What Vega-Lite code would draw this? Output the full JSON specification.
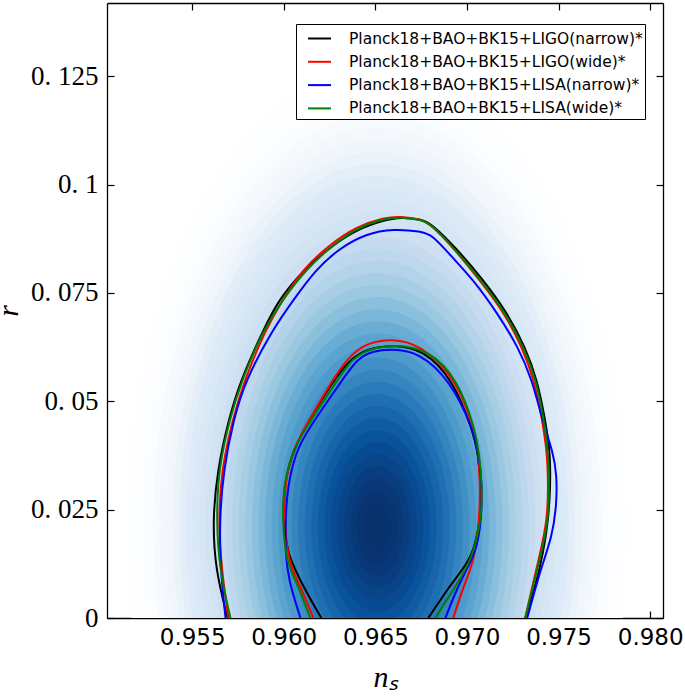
{
  "$schema": "https://vega.github.io/schema/vega-lite/v6.json",
  "width": 556,
  "height": 615,
  "autosize": {"type": "none"},
  "padding": {"left": 107, "top": 3, "right": 22, "bottom": 78},
  "background": "white",
  "config": {
    "view": {"stroke": null},
    "axis": {"domain": true, "domainColor": "black", "domainWidth": 1.3, "grid": false, "tickColor": "black", "tickWidth": 1.2, "tickSize": -7, "labelColor": "black", "titleColor": "black", "zindex": 1}
  },
  "datasets": {
    "density": [
      {"ns": 0.9651, "r": 0.021, "rho": 3.8, "density": 0.0009},
      {"ns": 0.9651, "r": 0.021, "rho": 3.7, "density": 0.0013},
      {"ns": 0.9651, "r": 0.021, "rho": 3.6, "density": 0.0018},
      {"ns": 0.9651, "r": 0.021, "rho": 3.5, "density": 0.0026},
      {"ns": 0.9651, "r": 0.021, "rho": 3.4, "density": 0.0037},
      {"ns": 0.9651, "r": 0.021, "rho": 3.3, "density": 0.0051},
      {"ns": 0.9651, "r": 0.021, "rho": 3.2, "density": 0.0070},
      {"ns": 0.9651, "r": 0.021, "rho": 3.1, "density": 0.0096},
      {"ns": 0.9651, "r": 0.021, "rho": 3.0, "density": 0.0129},
      {"ns": 0.9651, "r": 0.021, "rho": 2.9, "density": 0.0172},
      {"ns": 0.9651, "r": 0.021, "rho": 2.8, "density": 0.0228},
      {"ns": 0.9651, "r": 0.021, "rho": 2.7, "density": 0.0299},
      {"ns": 0.9651, "r": 0.021, "rho": 2.6, "density": 0.0387},
      {"ns": 0.9651, "r": 0.021, "rho": 2.5, "density": 0.0497},
      {"ns": 0.9651, "r": 0.021, "rho": 2.4, "density": 0.0632},
      {"ns": 0.9651, "r": 0.021, "rho": 2.3, "density": 0.0796},
      {"ns": 0.9651, "r": 0.021, "rho": 2.2, "density": 0.0992},
      {"ns": 0.9651, "r": 0.021, "rho": 2.1, "density": 0.1223},
      {"ns": 0.9651, "r": 0.021, "rho": 2.0, "density": 0.1494},
      {"ns": 0.9651, "r": 0.021, "rho": 1.9, "density": 0.1807},
      {"ns": 0.9651, "r": 0.021, "rho": 1.8, "density": 0.2163},
      {"ns": 0.9651, "r": 0.021, "rho": 1.7, "density": 0.2564},
      {"ns": 0.9651, "r": 0.021, "rho": 1.6, "density": 0.3009},
      {"ns": 0.9651, "r": 0.021, "rho": 1.5, "density": 0.3496},
      {"ns": 0.9651, "r": 0.021, "rho": 1.4, "density": 0.4021},
      {"ns": 0.9651, "r": 0.021, "rho": 1.3, "density": 0.4578},
      {"ns": 0.9651, "r": 0.021, "rho": 1.2, "density": 0.5163},
      {"ns": 0.9651, "r": 0.021, "rho": 1.1, "density": 0.5763},
      {"ns": 0.9651, "r": 0.021, "rho": 1.0, "density": 0.6369},
      {"ns": 0.9651, "r": 0.021, "rho": 0.9, "density": 0.6968},
      {"ns": 0.9651, "r": 0.021, "rho": 0.8, "density": 0.7548},
      {"ns": 0.9651, "r": 0.021, "rho": 0.7, "density": 0.8096},
      {"ns": 0.9651, "r": 0.021, "rho": 0.6, "density": 0.8598},
      {"ns": 0.9651, "r": 0.021, "rho": 0.5, "density": 0.9039},
      {"ns": 0.9651, "r": 0.021, "rho": 0.4, "density": 0.9406},
      {"ns": 0.9651, "r": 0.021, "rho": 0.3, "density": 0.9692},
      {"ns": 0.9651, "r": 0.021, "rho": 0.2, "density": 0.9888},
      {"ns": 0.9651, "r": 0.021, "rho": 0.1, "density": 0.9988}
    ],
    "contours": [
      {"series": "Planck18+BAO+BK15+LIGO(narrow)*", "level": "95", "i": 0, "ns": 0.95693, "r": 0},
      {"series": "Planck18+BAO+BK15+LIGO(narrow)*", "level": "95", "i": 1, "ns": 0.95627, "r": 0.0111},
      {"series": "Planck18+BAO+BK15+LIGO(narrow)*", "level": "95", "i": 2, "ns": 0.95611, "r": 0.0226},
      {"series": "Planck18+BAO+BK15+LIGO(narrow)*", "level": "95", "i": 3, "ns": 0.95638, "r": 0.0342},
      {"series": "Planck18+BAO+BK15+LIGO(narrow)*", "level": "95", "i": 4, "ns": 0.95698, "r": 0.0457},
      {"series": "Planck18+BAO+BK15+LIGO(narrow)*", "level": "95", "i": 5, "ns": 0.95764, "r": 0.0549},
      {"series": "Planck18+BAO+BK15+LIGO(narrow)*", "level": "95", "i": 6, "ns": 0.95889, "r": 0.0665},
      {"series": "Planck18+BAO+BK15+LIGO(narrow)*", "level": "95", "i": 7, "ns": 0.95971, "r": 0.0734},
      {"series": "Planck18+BAO+BK15+LIGO(narrow)*", "level": "95", "i": 8, "ns": 0.96107, "r": 0.0803},
      {"series": "Planck18+BAO+BK15+LIGO(narrow)*", "level": "95", "i": 9, "ns": 0.96254, "r": 0.0856},
      {"series": "Planck18+BAO+BK15+LIGO(narrow)*", "level": "95", "i": 10, "ns": 0.9640, "r": 0.0897},
      {"series": "Planck18+BAO+BK15+LIGO(narrow)*", "level": "95", "i": 11, "ns": 0.9655, "r": 0.0918},
      {"series": "Planck18+BAO+BK15+LIGO(narrow)*", "level": "95", "i": 12, "ns": 0.96636, "r": 0.0925},
      {"series": "Planck18+BAO+BK15+LIGO(narrow)*", "level": "95", "i": 13, "ns": 0.9675, "r": 0.0920},
      {"series": "Planck18+BAO+BK15+LIGO(narrow)*", "level": "95", "i": 14, "ns": 0.9680, "r": 0.0912},
      {"series": "Planck18+BAO+BK15+LIGO(narrow)*", "level": "95", "i": 15, "ns": 0.96936, "r": 0.0856},
      {"series": "Planck18+BAO+BK15+LIGO(narrow)*", "level": "95", "i": 16, "ns": 0.97089, "r": 0.0780},
      {"series": "Planck18+BAO+BK15+LIGO(narrow)*", "level": "95", "i": 17, "ns": 0.97220, "r": 0.0704},
      {"series": "Planck18+BAO+BK15+LIGO(narrow)*", "level": "95", "i": 18, "ns": 0.97318, "r": 0.0625},
      {"series": "Planck18+BAO+BK15+LIGO(narrow)*", "level": "95", "i": 19, "ns": 0.97384, "r": 0.0549},
      {"series": "Planck18+BAO+BK15+LIGO(narrow)*", "level": "95", "i": 20, "ns": 0.97427, "r": 0.0457},
      {"series": "Planck18+BAO+BK15+LIGO(narrow)*", "level": "95", "i": 21, "ns": 0.97455, "r": 0.0381},
      {"series": "Planck18+BAO+BK15+LIGO(narrow)*", "level": "95", "i": 22, "ns": 0.97455, "r": 0.0302},
      {"series": "Planck18+BAO+BK15+LIGO(narrow)*", "level": "95", "i": 23, "ns": 0.97444, "r": 0.0226},
      {"series": "Planck18+BAO+BK15+LIGO(narrow)*", "level": "95", "i": 24, "ns": 0.97416, "r": 0.0150},
      {"series": "Planck18+BAO+BK15+LIGO(narrow)*", "level": "95", "i": 25, "ns": 0.97373, "r": 0.0072},
      {"series": "Planck18+BAO+BK15+LIGO(narrow)*", "level": "95", "i": 26, "ns": 0.97318, "r": 0},
      {"series": "Planck18+BAO+BK15+LIGO(narrow)*", "level": "68", "i": 0, "ns": 0.96205, "r": 0},
      {"series": "Planck18+BAO+BK15+LIGO(narrow)*", "level": "68", "i": 1, "ns": 0.96107, "r": 0.0072},
      {"series": "Planck18+BAO+BK15+LIGO(narrow)*", "level": "68", "i": 2, "ns": 0.96064, "r": 0.0111},
      {"series": "Planck18+BAO+BK15+LIGO(narrow)*", "level": "68", "i": 3, "ns": 0.96020, "r": 0.0150},
      {"series": "Planck18+BAO+BK15+LIGO(narrow)*", "level": "68", "i": 4, "ns": 0.95998, "r": 0.0226},
      {"series": "Planck18+BAO+BK15+LIGO(narrow)*", "level": "68", "i": 5, "ns": 0.95998, "r": 0.0302},
      {"series": "Planck18+BAO+BK15+LIGO(narrow)*", "level": "68", "i": 6, "ns": 0.96047, "r": 0.0381},
      {"series": "Planck18+BAO+BK15+LIGO(narrow)*", "level": "68", "i": 7, "ns": 0.96107, "r": 0.0434},
      {"series": "Planck18+BAO+BK15+LIGO(narrow)*", "level": "68", "i": 8, "ns": 0.96271, "r": 0.0549},
      {"series": "Planck18+BAO+BK15+LIGO(narrow)*", "level": "68", "i": 9, "ns": 0.9636, "r": 0.0596},
      {"series": "Planck18+BAO+BK15+LIGO(narrow)*", "level": "68", "i": 10, "ns": 0.96456, "r": 0.0622},
      {"series": "Planck18+BAO+BK15+LIGO(narrow)*", "level": "68", "i": 11, "ns": 0.9660, "r": 0.0630},
      {"series": "Planck18+BAO+BK15+LIGO(narrow)*", "level": "68", "i": 12, "ns": 0.96762, "r": 0.0620},
      {"series": "Planck18+BAO+BK15+LIGO(narrow)*", "level": "68", "i": 13, "ns": 0.96925, "r": 0.0549},
      {"series": "Planck18+BAO+BK15+LIGO(narrow)*", "level": "68", "i": 14, "ns": 0.97030, "r": 0.0434},
      {"series": "Planck18+BAO+BK15+LIGO(narrow)*", "level": "68", "i": 15, "ns": 0.97060, "r": 0.0381},
      {"series": "Planck18+BAO+BK15+LIGO(narrow)*", "level": "68", "i": 16, "ns": 0.97078, "r": 0.0302},
      {"series": "Planck18+BAO+BK15+LIGO(narrow)*", "level": "68", "i": 17, "ns": 0.97073, "r": 0.0226},
      {"series": "Planck18+BAO+BK15+LIGO(narrow)*", "level": "68", "i": 18, "ns": 0.97035, "r": 0.0150},
      {"series": "Planck18+BAO+BK15+LIGO(narrow)*", "level": "68", "i": 19, "ns": 0.96975, "r": 0.0111},
      {"series": "Planck18+BAO+BK15+LIGO(narrow)*", "level": "68", "i": 20, "ns": 0.96909, "r": 0.0076},
      {"series": "Planck18+BAO+BK15+LIGO(narrow)*", "level": "68", "i": 21, "ns": 0.96789, "r": 0},
      {"series": "Planck18+BAO+BK15+LIGO(wide)*", "level": "95", "i": 0, "ns": 0.95698, "r": 0},
      {"series": "Planck18+BAO+BK15+LIGO(wide)*", "level": "95", "i": 1, "ns": 0.95660, "r": 0.0111},
      {"series": "Planck18+BAO+BK15+LIGO(wide)*", "level": "95", "i": 2, "ns": 0.95643, "r": 0.0226},
      {"series": "Planck18+BAO+BK15+LIGO(wide)*", "level": "95", "i": 3, "ns": 0.95660, "r": 0.0342},
      {"series": "Planck18+BAO+BK15+LIGO(wide)*", "level": "95", "i": 4, "ns": 0.95720, "r": 0.0457},
      {"series": "Planck18+BAO+BK15+LIGO(wide)*", "level": "95", "i": 5, "ns": 0.95785, "r": 0.0549},
      {"series": "Planck18+BAO+BK15+LIGO(wide)*", "level": "95", "i": 6, "ns": 0.95900, "r": 0.0665},
      {"series": "Planck18+BAO+BK15+LIGO(wide)*", "level": "95", "i": 7, "ns": 0.95993, "r": 0.0734},
      {"series": "Planck18+BAO+BK15+LIGO(wide)*", "level": "95", "i": 8, "ns": 0.96100, "r": 0.0803},
      {"series": "Planck18+BAO+BK15+LIGO(wide)*", "level": "95", "i": 9, "ns": 0.96245, "r": 0.0860},
      {"series": "Planck18+BAO+BK15+LIGO(wide)*", "level": "95", "i": 10, "ns": 0.9640, "r": 0.0904},
      {"series": "Planck18+BAO+BK15+LIGO(wide)*", "level": "95", "i": 11, "ns": 0.9655, "r": 0.0924},
      {"series": "Planck18+BAO+BK15+LIGO(wide)*", "level": "95", "i": 12, "ns": 0.96636, "r": 0.0927},
      {"series": "Planck18+BAO+BK15+LIGO(wide)*", "level": "95", "i": 13, "ns": 0.9675, "r": 0.0920},
      {"series": "Planck18+BAO+BK15+LIGO(wide)*", "level": "95", "i": 14, "ns": 0.9680, "r": 0.0909},
      {"series": "Planck18+BAO+BK15+LIGO(wide)*", "level": "95", "i": 15, "ns": 0.96930, "r": 0.0852},
      {"series": "Planck18+BAO+BK15+LIGO(wide)*", "level": "95", "i": 16, "ns": 0.97078, "r": 0.0775},
      {"series": "Planck18+BAO+BK15+LIGO(wide)*", "level": "95", "i": 17, "ns": 0.97210, "r": 0.0700},
      {"series": "Planck18+BAO+BK15+LIGO(wide)*", "level": "95", "i": 18, "ns": 0.97300, "r": 0.0625},
      {"series": "Planck18+BAO+BK15+LIGO(wide)*", "level": "95", "i": 19, "ns": 0.97367, "r": 0.0549},
      {"series": "Planck18+BAO+BK15+LIGO(wide)*", "level": "95", "i": 20, "ns": 0.97411, "r": 0.0457},
      {"series": "Planck18+BAO+BK15+LIGO(wide)*", "level": "95", "i": 21, "ns": 0.97438, "r": 0.0381},
      {"series": "Planck18+BAO+BK15+LIGO(wide)*", "level": "95", "i": 22, "ns": 0.97444, "r": 0.0302},
      {"series": "Planck18+BAO+BK15+LIGO(wide)*", "level": "95", "i": 23, "ns": 0.97438, "r": 0.0226},
      {"series": "Planck18+BAO+BK15+LIGO(wide)*", "level": "95", "i": 24, "ns": 0.97400, "r": 0.0150},
      {"series": "Planck18+BAO+BK15+LIGO(wide)*", "level": "95", "i": 25, "ns": 0.97356, "r": 0.0072},
      {"series": "Planck18+BAO+BK15+LIGO(wide)*", "level": "95", "i": 26, "ns": 0.97318, "r": 0},
      {"series": "Planck18+BAO+BK15+LIGO(wide)*", "level": "68", "i": 0, "ns": 0.96162, "r": 0},
      {"series": "Planck18+BAO+BK15+LIGO(wide)*", "level": "68", "i": 1, "ns": 0.96091, "r": 0.0072},
      {"series": "Planck18+BAO+BK15+LIGO(wide)*", "level": "68", "i": 2, "ns": 0.96047, "r": 0.0111},
      {"series": "Planck18+BAO+BK15+LIGO(wide)*", "level": "68", "i": 3, "ns": 0.96020, "r": 0.0150},
      {"series": "Planck18+BAO+BK15+LIGO(wide)*", "level": "68", "i": 4, "ns": 0.96004, "r": 0.0226},
      {"series": "Planck18+BAO+BK15+LIGO(wide)*", "level": "68", "i": 5, "ns": 0.96004, "r": 0.0302},
      {"series": "Planck18+BAO+BK15+LIGO(wide)*", "level": "68", "i": 6, "ns": 0.96042, "r": 0.0381},
      {"series": "Planck18+BAO+BK15+LIGO(wide)*", "level": "68", "i": 7, "ns": 0.96107, "r": 0.0434},
      {"series": "Planck18+BAO+BK15+LIGO(wide)*", "level": "68", "i": 8, "ns": 0.96265, "r": 0.0549},
      {"series": "Planck18+BAO+BK15+LIGO(wide)*", "level": "68", "i": 9, "ns": 0.9635, "r": 0.0600},
      {"series": "Planck18+BAO+BK15+LIGO(wide)*", "level": "68", "i": 10, "ns": 0.96445, "r": 0.0634},
      {"series": "Planck18+BAO+BK15+LIGO(wide)*", "level": "68", "i": 11, "ns": 0.9659, "r": 0.0645},
      {"series": "Planck18+BAO+BK15+LIGO(wide)*", "level": "68", "i": 12, "ns": 0.96745, "r": 0.0632},
      {"series": "Planck18+BAO+BK15+LIGO(wide)*", "level": "68", "i": 13, "ns": 0.96947, "r": 0.0549},
      {"series": "Planck18+BAO+BK15+LIGO(wide)*", "level": "68", "i": 14, "ns": 0.97040, "r": 0.0434},
      {"series": "Planck18+BAO+BK15+LIGO(wide)*", "level": "68", "i": 15, "ns": 0.97062, "r": 0.0381},
      {"series": "Planck18+BAO+BK15+LIGO(wide)*", "level": "68", "i": 16, "ns": 0.97073, "r": 0.0302},
      {"series": "Planck18+BAO+BK15+LIGO(wide)*", "level": "68", "i": 17, "ns": 0.97067, "r": 0.0226},
      {"series": "Planck18+BAO+BK15+LIGO(wide)*", "level": "68", "i": 18, "ns": 0.97045, "r": 0.0150},
      {"series": "Planck18+BAO+BK15+LIGO(wide)*", "level": "68", "i": 19, "ns": 0.97018, "r": 0.0111},
      {"series": "Planck18+BAO+BK15+LIGO(wide)*", "level": "68", "i": 20, "ns": 0.96975, "r": 0.0065},
      {"series": "Planck18+BAO+BK15+LIGO(wide)*", "level": "68", "i": 21, "ns": 0.96925, "r": 0},
      {"series": "Planck18+BAO+BK15+LISA(narrow)*", "level": "95", "i": 0, "ns": 0.95682, "r": 0},
      {"series": "Planck18+BAO+BK15+LISA(narrow)*", "level": "95", "i": 1, "ns": 0.95654, "r": 0.0111},
      {"series": "Planck18+BAO+BK15+LISA(narrow)*", "level": "95", "i": 2, "ns": 0.95649, "r": 0.0226},
      {"series": "Planck18+BAO+BK15+LISA(narrow)*", "level": "95", "i": 3, "ns": 0.95671, "r": 0.0342},
      {"series": "Planck18+BAO+BK15+LISA(narrow)*", "level": "95", "i": 4, "ns": 0.95725, "r": 0.0457},
      {"series": "Planck18+BAO+BK15+LISA(narrow)*", "level": "95", "i": 5, "ns": 0.95791, "r": 0.0549},
      {"series": "Planck18+BAO+BK15+LISA(narrow)*", "level": "95", "i": 6, "ns": 0.95938, "r": 0.0665},
      {"series": "Planck18+BAO+BK15+LISA(narrow)*", "level": "95", "i": 7, "ns": 0.96053, "r": 0.0734},
      {"series": "Planck18+BAO+BK15+LISA(narrow)*", "level": "95", "i": 8, "ns": 0.96173, "r": 0.0803},
      {"series": "Planck18+BAO+BK15+LISA(narrow)*", "level": "95", "i": 9, "ns": 0.9630, "r": 0.0852},
      {"series": "Planck18+BAO+BK15+LISA(narrow)*", "level": "95", "i": 10, "ns": 0.9645, "r": 0.0887},
      {"series": "Planck18+BAO+BK15+LISA(narrow)*", "level": "95", "i": 11, "ns": 0.9660, "r": 0.0898},
      {"series": "Planck18+BAO+BK15+LISA(narrow)*", "level": "95", "i": 12, "ns": 0.9675, "r": 0.0892},
      {"series": "Planck18+BAO+BK15+LISA(narrow)*", "level": "95", "i": 13, "ns": 0.9681, "r": 0.0884},
      {"series": "Planck18+BAO+BK15+LISA(narrow)*", "level": "95", "i": 14, "ns": 0.96920, "r": 0.0832},
      {"series": "Planck18+BAO+BK15+LISA(narrow)*", "level": "95", "i": 15, "ns": 0.97035, "r": 0.0780},
      {"series": "Planck18+BAO+BK15+LISA(narrow)*", "level": "95", "i": 16, "ns": 0.97165, "r": 0.0704},
      {"series": "Planck18+BAO+BK15+LISA(narrow)*", "level": "95", "i": 17, "ns": 0.97280, "r": 0.0625},
      {"series": "Planck18+BAO+BK15+LISA(narrow)*", "level": "95", "i": 18, "ns": 0.97356, "r": 0.0549},
      {"series": "Planck18+BAO+BK15+LISA(narrow)*", "level": "95", "i": 19, "ns": 0.97411, "r": 0.0457},
      {"series": "Planck18+BAO+BK15+LISA(narrow)*", "level": "95", "i": 20, "ns": 0.97471, "r": 0.0381},
      {"series": "Planck18+BAO+BK15+LISA(narrow)*", "level": "95", "i": 21, "ns": 0.97490, "r": 0.0330},
      {"series": "Planck18+BAO+BK15+LISA(narrow)*", "level": "95", "i": 22, "ns": 0.97490, "r": 0.0265},
      {"series": "Planck18+BAO+BK15+LISA(narrow)*", "level": "95", "i": 23, "ns": 0.97466, "r": 0.0188},
      {"series": "Planck18+BAO+BK15+LISA(narrow)*", "level": "95", "i": 24, "ns": 0.97400, "r": 0.0111},
      {"series": "Planck18+BAO+BK15+LISA(narrow)*", "level": "95", "i": 25, "ns": 0.97329, "r": 0},
      {"series": "Planck18+BAO+BK15+LISA(narrow)*", "level": "68", "i": 0, "ns": 0.96091, "r": 0},
      {"series": "Planck18+BAO+BK15+LISA(narrow)*", "level": "68", "i": 1, "ns": 0.96025, "r": 0.0088},
      {"series": "Planck18+BAO+BK15+LISA(narrow)*", "level": "68", "i": 2, "ns": 0.96009, "r": 0.0150},
      {"series": "Planck18+BAO+BK15+LISA(narrow)*", "level": "68", "i": 3, "ns": 0.96009, "r": 0.0226},
      {"series": "Planck18+BAO+BK15+LISA(narrow)*", "level": "68", "i": 4, "ns": 0.96020, "r": 0.0302},
      {"series": "Planck18+BAO+BK15+LISA(narrow)*", "level": "68", "i": 5, "ns": 0.96064, "r": 0.0381},
      {"series": "Planck18+BAO+BK15+LISA(narrow)*", "level": "68", "i": 6, "ns": 0.96129, "r": 0.0434},
      {"series": "Planck18+BAO+BK15+LISA(narrow)*", "level": "68", "i": 7, "ns": 0.96320, "r": 0.0549},
      {"series": "Planck18+BAO+BK15+LISA(narrow)*", "level": "68", "i": 8, "ns": 0.9640, "r": 0.0598},
      {"series": "Planck18+BAO+BK15+LISA(narrow)*", "level": "68", "i": 9, "ns": 0.96483, "r": 0.0616},
      {"series": "Planck18+BAO+BK15+LISA(narrow)*", "level": "68", "i": 10, "ns": 0.9659, "r": 0.0621},
      {"series": "Planck18+BAO+BK15+LISA(narrow)*", "level": "68", "i": 11, "ns": 0.96735, "r": 0.0614},
      {"series": "Planck18+BAO+BK15+LISA(narrow)*", "level": "68", "i": 12, "ns": 0.96909, "r": 0.0549},
      {"series": "Planck18+BAO+BK15+LISA(narrow)*", "level": "68", "i": 13, "ns": 0.97035, "r": 0.0434},
      {"series": "Planck18+BAO+BK15+LISA(narrow)*", "level": "68", "i": 14, "ns": 0.97064, "r": 0.0381},
      {"series": "Planck18+BAO+BK15+LISA(narrow)*", "level": "68", "i": 15, "ns": 0.97084, "r": 0.0302},
      {"series": "Planck18+BAO+BK15+LISA(narrow)*", "level": "68", "i": 16, "ns": 0.97078, "r": 0.0226},
      {"series": "Planck18+BAO+BK15+LISA(narrow)*", "level": "68", "i": 17, "ns": 0.97051, "r": 0.0150},
      {"series": "Planck18+BAO+BK15+LISA(narrow)*", "level": "68", "i": 18, "ns": 0.96964, "r": 0.0088},
      {"series": "Planck18+BAO+BK15+LISA(narrow)*", "level": "68", "i": 19, "ns": 0.96882, "r": 0},
      {"series": "Planck18+BAO+BK15+LISA(wide)*", "level": "95", "i": 0, "ns": 0.95709, "r": 0},
      {"series": "Planck18+BAO+BK15+LISA(wide)*", "level": "95", "i": 1, "ns": 0.95649, "r": 0.0111},
      {"series": "Planck18+BAO+BK15+LISA(wide)*", "level": "95", "i": 2, "ns": 0.95632, "r": 0.0226},
      {"series": "Planck18+BAO+BK15+LISA(wide)*", "level": "95", "i": 3, "ns": 0.95643, "r": 0.0342},
      {"series": "Planck18+BAO+BK15+LISA(wide)*", "level": "95", "i": 4, "ns": 0.95703, "r": 0.0457},
      {"series": "Planck18+BAO+BK15+LISA(wide)*", "level": "95", "i": 5, "ns": 0.95770, "r": 0.0549},
      {"series": "Planck18+BAO+BK15+LISA(wide)*", "level": "95", "i": 6, "ns": 0.95889, "r": 0.0665},
      {"series": "Planck18+BAO+BK15+LISA(wide)*", "level": "95", "i": 7, "ns": 0.95993, "r": 0.0734},
      {"series": "Planck18+BAO+BK15+LISA(wide)*", "level": "95", "i": 8, "ns": 0.96118, "r": 0.0803},
      {"series": "Planck18+BAO+BK15+LISA(wide)*", "level": "95", "i": 9, "ns": 0.96260, "r": 0.0858},
      {"series": "Planck18+BAO+BK15+LISA(wide)*", "level": "95", "i": 10, "ns": 0.9640, "r": 0.0901},
      {"series": "Planck18+BAO+BK15+LISA(wide)*", "level": "95", "i": 11, "ns": 0.9655, "r": 0.0922},
      {"series": "Planck18+BAO+BK15+LISA(wide)*", "level": "95", "i": 12, "ns": 0.96636, "r": 0.0925},
      {"series": "Planck18+BAO+BK15+LISA(wide)*", "level": "95", "i": 13, "ns": 0.9675, "r": 0.0919},
      {"series": "Planck18+BAO+BK15+LISA(wide)*", "level": "95", "i": 14, "ns": 0.9680, "r": 0.0910},
      {"series": "Planck18+BAO+BK15+LISA(wide)*", "level": "95", "i": 15, "ns": 0.96930, "r": 0.0853},
      {"series": "Planck18+BAO+BK15+LISA(wide)*", "level": "95", "i": 16, "ns": 0.97080, "r": 0.0778},
      {"series": "Planck18+BAO+BK15+LISA(wide)*", "level": "95", "i": 17, "ns": 0.97212, "r": 0.0702},
      {"series": "Planck18+BAO+BK15+LISA(wide)*", "level": "95", "i": 18, "ns": 0.97310, "r": 0.0625},
      {"series": "Planck18+BAO+BK15+LISA(wide)*", "level": "95", "i": 19, "ns": 0.97378, "r": 0.0549},
      {"series": "Planck18+BAO+BK15+LISA(wide)*", "level": "95", "i": 20, "ns": 0.97420, "r": 0.0457},
      {"series": "Planck18+BAO+BK15+LISA(wide)*", "level": "95", "i": 21, "ns": 0.97444, "r": 0.0381},
      {"series": "Planck18+BAO+BK15+LISA(wide)*", "level": "95", "i": 22, "ns": 0.97449, "r": 0.0302},
      {"series": "Planck18+BAO+BK15+LISA(wide)*", "level": "95", "i": 23, "ns": 0.97444, "r": 0.0226},
      {"series": "Planck18+BAO+BK15+LISA(wide)*", "level": "95", "i": 24, "ns": 0.97405, "r": 0.0150},
      {"series": "Planck18+BAO+BK15+LISA(wide)*", "level": "95", "i": 25, "ns": 0.97360, "r": 0.0072},
      {"series": "Planck18+BAO+BK15+LISA(wide)*", "level": "95", "i": 26, "ns": 0.97318, "r": 0},
      {"series": "Planck18+BAO+BK15+LISA(wide)*", "level": "68", "i": 0, "ns": 0.96145, "r": 0},
      {"series": "Planck18+BAO+BK15+LISA(wide)*", "level": "68", "i": 1, "ns": 0.96080, "r": 0.0072},
      {"series": "Planck18+BAO+BK15+LISA(wide)*", "level": "68", "i": 2, "ns": 0.96036, "r": 0.0111},
      {"series": "Planck18+BAO+BK15+LISA(wide)*", "level": "68", "i": 3, "ns": 0.96009, "r": 0.0150},
      {"series": "Planck18+BAO+BK15+LISA(wide)*", "level": "68", "i": 4, "ns": 0.95993, "r": 0.0226},
      {"series": "Planck18+BAO+BK15+LISA(wide)*", "level": "68", "i": 5, "ns": 0.95998, "r": 0.0302},
      {"series": "Planck18+BAO+BK15+LISA(wide)*", "level": "68", "i": 6, "ns": 0.96042, "r": 0.0381},
      {"series": "Planck18+BAO+BK15+LISA(wide)*", "level": "68", "i": 7, "ns": 0.96113, "r": 0.0434},
      {"series": "Planck18+BAO+BK15+LISA(wide)*", "level": "68", "i": 8, "ns": 0.96293, "r": 0.0549},
      {"series": "Planck18+BAO+BK15+LISA(wide)*", "level": "68", "i": 9, "ns": 0.9637, "r": 0.0598},
      {"series": "Planck18+BAO+BK15+LISA(wide)*", "level": "68", "i": 10, "ns": 0.96472, "r": 0.0622},
      {"series": "Planck18+BAO+BK15+LISA(wide)*", "level": "68", "i": 11, "ns": 0.9660, "r": 0.0631},
      {"series": "Planck18+BAO+BK15+LISA(wide)*", "level": "68", "i": 12, "ns": 0.96789, "r": 0.0621},
      {"series": "Planck18+BAO+BK15+LISA(wide)*", "level": "68", "i": 13, "ns": 0.96953, "r": 0.0549},
      {"series": "Planck18+BAO+BK15+LISA(wide)*", "level": "68", "i": 14, "ns": 0.97045, "r": 0.0434},
      {"series": "Planck18+BAO+BK15+LISA(wide)*", "level": "68", "i": 15, "ns": 0.97066, "r": 0.0381},
      {"series": "Planck18+BAO+BK15+LISA(wide)*", "level": "68", "i": 16, "ns": 0.97084, "r": 0.0302},
      {"series": "Planck18+BAO+BK15+LISA(wide)*", "level": "68", "i": 17, "ns": 0.97078, "r": 0.0226},
      {"series": "Planck18+BAO+BK15+LISA(wide)*", "level": "68", "i": 18, "ns": 0.97035, "r": 0.0150},
      {"series": "Planck18+BAO+BK15+LISA(wide)*", "level": "68", "i": 19, "ns": 0.96991, "r": 0.0111},
      {"series": "Planck18+BAO+BK15+LISA(wide)*", "level": "68", "i": 20, "ns": 0.96936, "r": 0.0072},
      {"series": "Planck18+BAO+BK15+LISA(wide)*", "level": "68", "i": 21, "ns": 0.96827, "r": 0}
    ]
  },
  "layer": [
    {
      "data": {"name": "density"},
      "mark": {"type": "point", "shape": "M0,-1C0.301,-1 0.545,-0.5523 0.545,0C0.545,0.5523 0.301,1 0,1C-0.301,1 -0.545,0.5523 -0.545,0C-0.545,-0.5523 -0.301,-1 0,-1Z", "filled": true, "opacity": 1, "strokeWidth": 0, "clip": true},
      "encoding": {
        "x": {"field": "ns", "type": "quantitative", "scale": {"domain": [0.95035, 0.9807], "nice": false, "zero": false},
              "axis": {"orient": "bottom", "values": [0.955, 0.96, 0.965, 0.97, 0.975, 0.98], "format": ".3f", "labelFont": "DejaVu Sans", "labelFontSize": 23, "labelPadding": 15, "title": "nₛ", "titleFont": "Liberation Serif", "titleFontStyle": "italic", "titleFontWeight": "normal", "titleFontSize": 30, "titlePadding": 13}},
        "y": {"field": "r", "type": "quantitative", "scale": {"domain": [0, 0.1419], "nice": false, "zero": false},
              "axis": {"orient": "left", "values": [0, 0.025, 0.05, 0.075, 0.1, 0.125], "labelExpr": "datum.value == 0 ? '0' : replace(format(datum.value, '.3~f'), '.', '. ')", "labelFont": "Liberation Serif", "labelFontSize": 27, "labelPadding": 16, "title": "r", "titleFont": "Liberation Serif", "titleFontStyle": "italic", "titleFontWeight": "normal", "titleFontSize": 30, "titlePadding": 7}},
        "size": {"field": "rho", "type": "quantitative", "scale": {"type": "pow", "exponent": 2, "domain": [0, 3.8], "range": [0, 845664]}, "legend": null},
        "fill": {"field": "density", "type": "quantitative", "scale": {"type": "linear", "interpolate": "rgb", "domain": [0, 0.015625, 0.0625, 0.140625, 0.25, 0.390625, 0.5625, 0.765625, 1], "range": ["#ffffff", "#deebf7", "#c6dbef", "#9ecae1", "#6baed6", "#4292c6", "#2171b5", "#08519c", "#08306b"]}, "legend": null}
      }
    },
    {
      "data": {"name": "contours"},
      "mark": {"type": "line", "strokeWidth": 2, "interpolate": "basis", "clip": true},
      "encoding": {
        "x": {"field": "ns", "type": "quantitative", "scale": {"domain": [0.95035, 0.9807], "nice": false, "zero": false},
              "axis": {"orient": "top", "values": [0.955, 0.96, 0.965, 0.97, 0.975, 0.98], "labels": false, "title": null}},
        "y": {"field": "r", "type": "quantitative", "scale": {"domain": [0, 0.1419], "nice": false, "zero": false},
              "axis": {"orient": "right", "values": [0, 0.025, 0.05, 0.075, 0.1, 0.125], "labels": false, "title": null}},
        "stroke": {"field": "series", "type": "nominal",
                   "scale": {"domain": ["Planck18+BAO+BK15+LIGO(narrow)*", "Planck18+BAO+BK15+LIGO(wide)*", "Planck18+BAO+BK15+LISA(narrow)*", "Planck18+BAO+BK15+LISA(wide)*"], "range": ["#000000", "#ff0000", "#0000ff", "#008000"]},
                   "legend": {"orient": "none", "legendX": 189, "legendY": 21, "title": null, "strokeColor": "black", "fillColor": "white", "padding": 2, "symbolType": "stroke", "symbolStrokeWidth": 2, "symbolSize": 529, "symbolOffset": 9, "labelFont": "DejaVu Sans", "labelFontSize": 15.5, "labelColor": "black", "labelOffset": 17, "labelLimit": 500, "rowPadding": 2.3}},
        "detail": {"field": "level", "type": "nominal"},
        "order": {"field": "i", "type": "quantitative"}
      }
    }
  ],
  "resolve": {"axis": {"x": "independent", "y": "independent"}}
}
